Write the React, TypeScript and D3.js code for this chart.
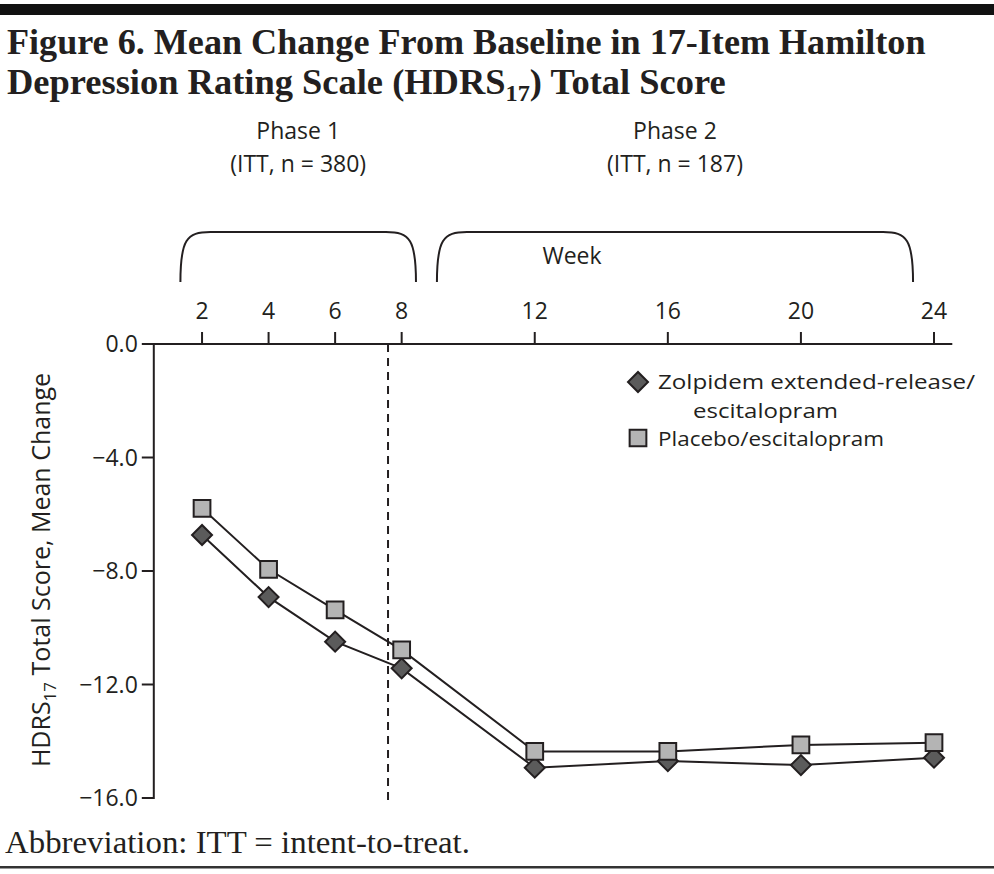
import * as d3 from 'd3';
import React, { useEffect } from 'react';

// weeks on the x axis and mean change from baseline per arm
const weeks = [2, 4, 6, 8, 12, 16, 20, 24];
const zolpidem = [-6.73, -8.92, -10.49, -11.43, -14.93, -14.7, -14.84, -14.58];
const placebo = [-5.79, -7.94, -9.37, -10.78, -14.36, -14.36, -14.13, -14.05];
const yTicks = [0, -4, -8, -12, -16];
const seriesNames = ['Zolpidem extended-release/', 'Placebo/escitalopram'];
const phases = [
  { label: 'Phase 1', sub: '(ITT, n = 380)', from: 1.35, to: 8.43 },
  { label: 'Phase 2', sub: '(ITT, n = 187)', from: 9.06, to: 23.37 },
];
const phaseBreak = 7.59;

const INK = '#231f20';
const SANS = "'Open Sans', 'Noto Sans', sans-serif";
const SERIF = "'Liberation Serif', 'DejaVu Serif', serif";
const FS = 23;

export default function App() {
  const ref = React.useRef<SVGSVGElement>(null);

  useEffect(() => {
    if (!ref.current) return;
    const svg = d3.select(ref.current);
    svg.selectAll('*').remove();

    const x = d3.scaleLinear().domain([0, 24]).range([135.5, 934]);
    const y = d3.scaleLinear().domain([0, -16]).range([344, 798]);

    // top rule and bottom rule
    svg.append('rect').attr('x', 0).attr('y', 4).attr('width', 994).attr('height', 11).attr('fill', '#111');
    svg.append('rect').attr('x', 0).attr('y', 866).attr('width', 994).attr('height', 2.5).attr('fill', '#333');

    // squeeze serif text to the measured width (condensed face in the original)
    const fitText = (sel: d3.Selection<SVGTextElement, unknown, null, undefined>, x0: number, w: number) => {
      const node = sel.node();
      if (!node) return;
      const bw = node.getBBox().width;
      const k = bw > 0 ? w / bw : 1;
      sel.attr('x', 0).attr('transform', `translate(${x0},0) scale(${k},1)`);
    };

    const t1 = svg.append('text')
      .attr('y', 54).attr('font-family', SERIF).attr('font-weight', 'bold').attr('font-size', 36).attr('fill', INK)
      .text('Figure 6. Mean Change From Baseline in 17-Item Hamilton');
    fitText(t1, 7, 919);
    const t2 = svg.append('text')
      .attr('y', 94).attr('font-family', SERIF).attr('font-weight', 'bold').attr('font-size', 36).attr('fill', INK);
    t2.append('tspan').text('Depression Rating Scale (HDRS');
    t2.append('tspan').attr('font-size', 24).attr('dy', 7).text('17');
    t2.append('tspan').attr('dy', -7).text(') Total Score');
    fitText(t2, 7, 719);

    const foot = svg.append('text')
      .attr('y', 853).attr('font-family', SERIF).attr('font-size', 31).attr('fill', INK)
      .text('Abbreviation: ITT = intent-to-treat.');
    fitText(foot, 5, 465);

    // phase brackets
    const bracketTop = 232;
    const bracketBottom = 282;
    const r = 30;
    phases.forEach(p => {
      const a = x(p.from);
      const b = x(p.to);
      const path = d3.path();
      path.moveTo(a, bracketBottom);
      path.bezierCurveTo(a, bracketTop + 8, a + 6, bracketTop, a + r, bracketTop);
      path.lineTo(b - r, bracketTop);
      path.bezierCurveTo(b - 6, bracketTop, b, bracketTop + 8, b, bracketBottom);
      svg.append('path').attr('d', path.toString()).attr('fill', 'none').attr('stroke', INK).attr('stroke-width', 2);
      const cx = (a + b) / 2;
      svg.append('text').attr('x', cx).attr('y', 139).attr('text-anchor', 'middle')
        .attr('font-family', SANS).attr('font-size', FS).attr('fill', INK).text(p.label);
      svg.append('text').attr('x', cx).attr('y', 172).attr('text-anchor', 'middle')
        .attr('font-family', SANS).attr('font-size', FS).attr('fill', INK).text(p.sub);
    });

    svg.append('text').attr('x', 572).attr('y', 264).attr('text-anchor', 'middle')
      .attr('font-family', SANS).attr('font-size', FS).attr('fill', INK).text('Week');

    // x axis (on top)
    const xAxis = svg.append('g');
    xAxis.append('line').attr('x1', x(0.55)).attr('x2', x(24.55)).attr('y1', y(0)).attr('y2', y(0))
      .attr('stroke', INK).attr('stroke-width', 2);
    weeks.forEach(w => {
      xAxis.append('line').attr('x1', x(w)).attr('x2', x(w)).attr('y1', y(0)).attr('y2', y(0) - 12)
        .attr('stroke', INK).attr('stroke-width', 2);
      xAxis.append('text').attr('x', x(w)).attr('y', 319).attr('text-anchor', 'middle')
        .attr('font-family', SANS).attr('font-size', FS).attr('fill', INK).text(String(w));
    });

    // y axis
    const yAxis = svg.append('g');
    yAxis.append('line').attr('x1', x(0.55)).attr('x2', x(0.55)).attr('y1', y(0) - 1).attr('y2', y(-16) + 1)
      .attr('stroke', INK).attr('stroke-width', 2);
    yTicks.forEach(t => {
      yAxis.append('line').attr('x1', x(0.55) - 12).attr('x2', x(0.55)).attr('y1', y(t)).attr('y2', y(t))
        .attr('stroke', INK).attr('stroke-width', 2);
      yAxis.append('text').attr('x', x(0.55) - 16).attr('y', y(t) + 8).attr('text-anchor', 'end')
        .attr('font-family', SANS).attr('font-size', FS).attr('fill', INK)
        .text(t === 0 ? '0.0' : '\u2212' + d3.format('.1f')(-t));
    });

    const yTitle = svg.append('text')
      .attr('transform', `translate(50,570) rotate(-90)`).attr('text-anchor', 'middle')
      .attr('font-family', SANS).attr('font-size', 25).attr('fill', INK);
    yTitle.append('tspan').text('HDRS');
    yTitle.append('tspan').attr('font-size', 17).attr('dy', 6).text('17');
    yTitle.append('tspan').attr('dy', -6).text(' Total Score, Mean Change');

    // phase break
    svg.append('line').attr('x1', x(phaseBreak)).attr('x2', x(phaseBreak)).attr('y1', y(0)).attr('y2', y(-16) + 3)
      .attr('stroke', INK).attr('stroke-width', 2).attr('stroke-dasharray', '8,6');

    // lines
    const line = d3.line<number>().x((d, i) => x(weeks[i])).y(d => y(d));
    [zolpidem, placebo].forEach(s => {
      svg.append('path').attr('d', line(s) as string).attr('fill', 'none').attr('stroke', INK).attr('stroke-width', 2);
    });

    const diamond = d3.symbol().type(d3.symbolSquare).size(200);
    const square = d3.symbol().type(d3.symbolSquare).size(280);
    const drawDiamond = (cx: number, cy: number) =>
      svg.append('path').attr('d', diamond() as string)
        .attr('transform', `translate(${cx},${cy}) rotate(45)`)
        .attr('fill', '#5b5b5b').attr('stroke', INK).attr('stroke-width', 2);
    const drawSquare = (cx: number, cy: number) =>
      svg.append('path').attr('d', square() as string)
        .attr('transform', `translate(${cx},${cy})`)
        .attr('fill', '#b4b4b4').attr('stroke', INK).attr('stroke-width', 2);

    zolpidem.forEach((v, i) => drawDiamond(x(weeks[i]), y(v)));
    placebo.forEach((v, i) => drawSquare(x(weeks[i]), y(v)));

    // legend
    const LF = 20.5;
    drawDiamond(638, 382);
    svg.append('text').attr('x', 658).attr('y', 389).attr('font-family', SANS).attr('font-size', LF).attr('fill', INK)
      .attr('textLength', 317).attr('lengthAdjust', 'spacingAndGlyphs')
      .text(seriesNames[0]);
    svg.append('text').attr('x', 693).attr('y', 417.5).attr('font-family', SANS).attr('font-size', LF).attr('fill', INK)
      .attr('textLength', 145).attr('lengthAdjust', 'spacingAndGlyphs')
      .text('escitalopram');
    drawSquare(638, 438);
    svg.append('text').attr('x', 658).attr('y', 446).attr('font-family', SANS).attr('font-size', LF).attr('fill', INK)
      .attr('textLength', 226).attr('lengthAdjust', 'spacingAndGlyphs')
      .text(seriesNames[1]);
  }, []);

  return (
    <svg
      ref={ref}
      width={994}
      height={874}
      style={{ position: 'absolute', left: 0, top: 0, background: '#fff' }}
    />
  );
}
